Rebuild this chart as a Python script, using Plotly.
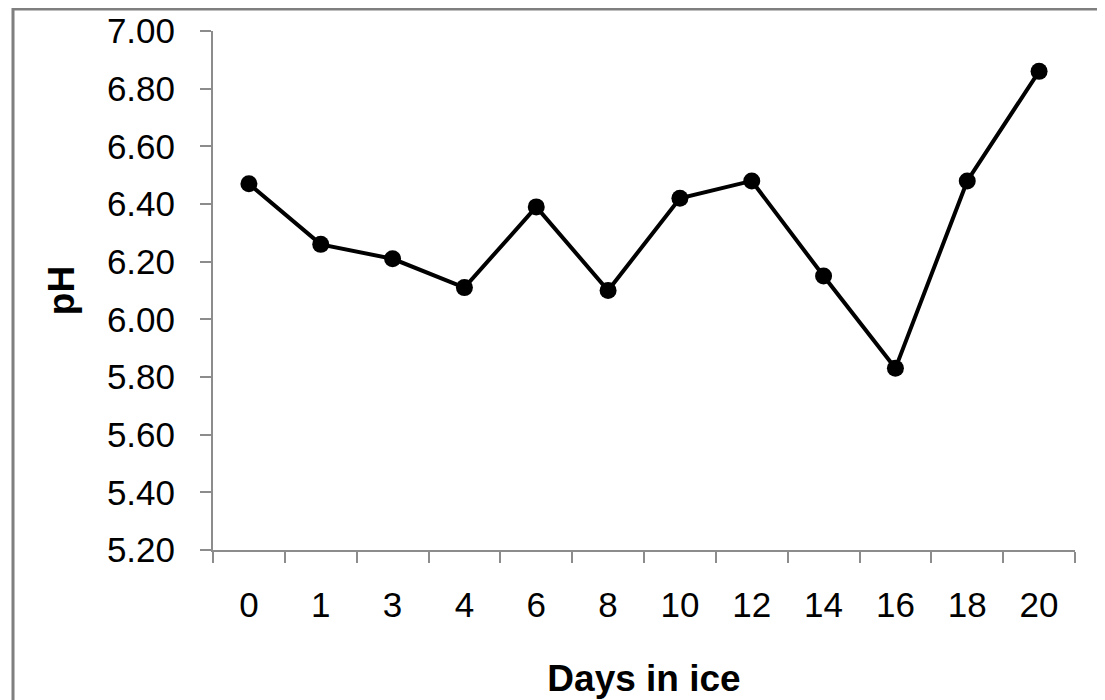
import plotly.graph_objects as go

days = ["0", "1", "3", "4", "6", "8", "10", "12", "14", "16", "18", "20"]
ph = [6.47, 6.26, 6.21, 6.11, 6.39, 6.10, 6.42, 6.48, 6.15, 5.83, 6.48, 6.86]
y_ticks = [5.2, 5.4, 5.6, 5.8, 6.0, 6.2, 6.4, 6.6, 6.8, 7.0]

# page body adds an 8px offset; figure sized to fit the window
W, H = 1097, 692
L, R, T, B = 205, 30, 23, 149.5
pw, ph_px = W - L - R, H - T - B

fig = go.Figure()
fig.add_trace(go.Scatter(
    x=days, y=ph, mode="lines+markers",
    line=dict(color="black", width=4),
    marker=dict(color="black", size=17),
    showlegend=False,
))

axis_gray = "#8c8c8c"
fig.update_layout(
    width=W, height=H,
    margin=dict(l=L, r=R, t=T, b=B, autoexpand=False),
    paper_bgcolor="white", plot_bgcolor="white",
    font=dict(family="Liberation Sans, Arial, sans-serif", size=35, color="black"),
    xaxis=dict(
        type="category", range=[-0.5, len(days) - 0.5],
        showgrid=False, zeroline=False, automargin=False,
        showline=True, linecolor=axis_gray, linewidth=2,
        ticks="outside", tickson="boundaries", ticklen=11, tickwidth=2, tickcolor=axis_gray,
        ticklabelstandoff=23,
        title=dict(text="<b>Days in ice</b>", font=dict(size=37), standoff=42),
    ),
    yaxis=dict(
        range=[5.2, 7.0], tickvals=y_ticks, tickformat=".2f",
        showgrid=False, zeroline=False, automargin=False,
        showline=True, linecolor=axis_gray, linewidth=2,
        ticks="outside", ticklen=11, tickwidth=2, tickcolor=axis_gray,
        ticklabelstandoff=18,
        title=dict(text="<b>pH</b>", font=dict(size=37), standoff=21),
    ),
)

def px_to_paper_x(px):
    return (px - L) / pw

def px_to_paper_y(py):
    return (H - B - py) / ph_px

# outer gray frame of the original image
fig.add_shape(
    type="rect", xref="paper", yref="paper",
    x0=px_to_paper_x(5), x1=px_to_paper_x(1110),
    y0=px_to_paper_y(710), y1=px_to_paper_y(1),
    line=dict(color="#7f7f7f", width=3), fillcolor="rgba(0,0,0,0)", layer="below",
)

fig.write_html("out.html")
